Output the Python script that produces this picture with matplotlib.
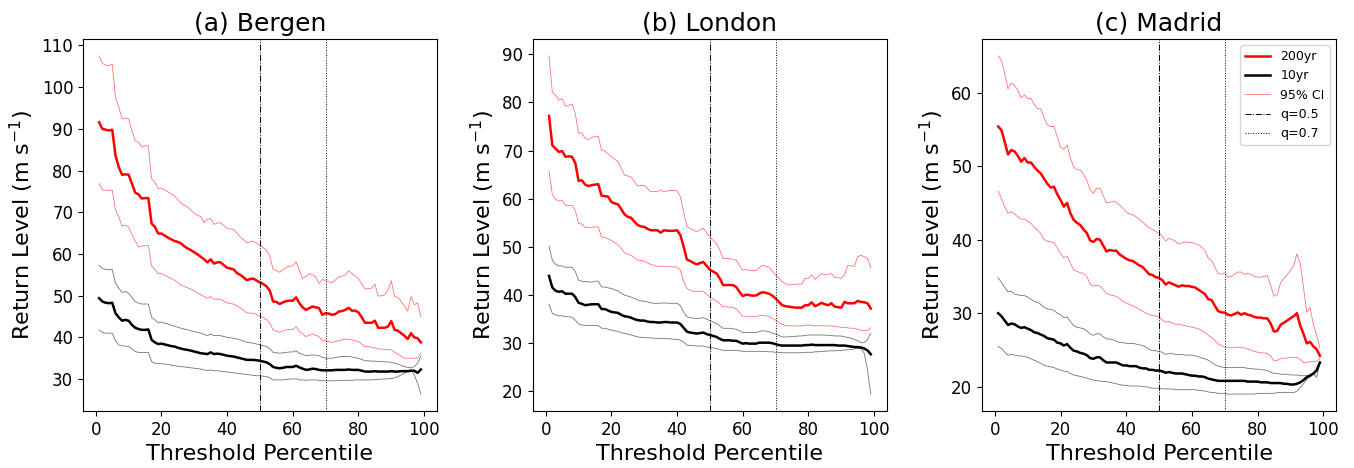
import matplotlib
matplotlib.use("Agg")
import matplotlib.pyplot as plt
import numpy as np

# threshold percentiles used for the GPD fits
percentiles = list(range(1, 100))

# ---- Bergen ----
bergen_rl200 = [
    91.6, 90.0, 89.8, 89.6, 89.8, 83.6, 80.8, 79.0, 79.1, 79.0,
    76.9, 74.7, 74.3, 73.3, 73.4, 73.4, 67.3, 66.5, 64.9, 64.9,
    64.4, 63.9, 63.5, 63.1, 62.9, 62.5, 61.8, 61.3, 60.9, 60.4,
    59.9, 59.3, 58.7, 58.0, 58.7, 57.7, 58.0, 58.0, 57.3, 56.7,
    56.5, 56.3, 55.4, 55.0, 54.4, 53.7, 54.0, 54.1, 53.6, 53.2,
    52.8, 52.2, 51.2, 48.6, 48.5, 48.0, 48.4, 48.7, 48.8, 48.8,
    49.6, 48.2, 47.2, 46.6, 47.0, 47.4, 47.2, 47.0, 45.4, 45.8,
    45.7, 45.4, 45.6, 46.2, 46.3, 46.6, 47.1, 46.4, 46.4, 46.0,
    44.8, 43.5, 43.5, 43.5, 44.0, 42.3, 42.3, 42.3, 42.6, 43.9,
    41.8, 41.6, 41.0, 40.4, 39.6, 41.0, 40.0, 39.8, 38.8]
bergen_rl200_hi = [
    107.5, 105.7, 105.3, 105.2, 105.5, 97.5, 95.2, 92.4, 92.6, 92.4,
    89.6, 87.2, 86.8, 85.6, 86.0, 85.9, 78.0, 77.2, 75.7, 75.8,
    75.3, 74.9, 74.4, 73.9, 73.0, 72.1, 71.7, 71.3, 70.5, 69.7,
    69.3, 68.9, 67.5, 68.3, 68.5, 67.1, 67.4, 67.5, 66.8, 66.1,
    66.0, 65.9, 65.0, 64.1, 63.4, 62.7, 62.9, 63.1, 62.6, 62.1,
    61.5, 60.9, 59.4, 56.3, 56.0, 55.6, 56.2, 56.8, 57.0, 57.2,
    58.1, 56.1, 54.1, 54.6, 55.3, 55.0, 54.5, 52.9, 53.9, 53.6,
    53.3, 53.1, 53.8, 54.5, 54.7, 54.9, 56.0, 55.3, 54.7, 54.1,
    52.8, 51.6, 51.7, 51.8, 52.8, 49.9, 50.0, 50.2, 51.4, 53.6,
    49.8, 49.6, 48.6, 47.5, 46.3, 49.8, 47.8, 48.3, 45.0]
bergen_rl200_lo = [
    76.9, 75.4, 75.3, 75.2, 75.3, 70.5, 68.9, 66.7, 66.9, 66.5,
    64.7, 63.1, 61.7, 61.9, 62.1, 62.0, 57.1, 56.3, 55.3, 55.3,
    54.9, 54.5, 54.1, 53.7, 53.1, 52.5, 52.2, 51.9, 51.5, 51.1,
    50.6, 50.2, 49.8, 49.4, 49.8, 49.1, 49.2, 49.1, 48.7, 48.3,
    48.1, 48.0, 47.5, 47.1, 46.5, 45.9, 45.8, 45.8, 45.5, 45.1,
    44.7, 44.3, 43.4, 41.8, 41.5, 41.2, 41.5, 41.8, 41.9, 41.9,
    42.6, 41.4, 40.8, 40.2, 40.5, 40.8, 40.5, 40.2, 39.2, 39.2,
    39.0, 38.8, 39.0, 39.2, 39.4, 39.6, 39.5, 39.4, 39.2, 39.0,
    38.4, 37.8, 37.8, 37.6, 37.5, 37.2, 37.2, 37.1, 37.1, 37.0,
    36.4, 36.0, 35.5, 35.0, 35.0, 35.0, 35.0, 35.0, 36.2]
bergen_rl10 = [
    49.4, 48.6, 48.3, 48.2, 48.3, 45.8, 44.8, 44.0, 44.2, 44.0,
    43.0, 42.3, 42.0, 41.8, 41.8, 41.9, 39.4, 38.8, 38.4, 38.5,
    38.3, 38.1, 37.9, 37.8, 37.5, 37.3, 37.1, 37.0, 36.8, 36.6,
    36.4, 36.2, 36.1, 36.0, 36.4, 36.0, 36.1, 36.0, 35.8, 35.6,
    35.5, 35.4, 35.2, 35.0, 34.8, 34.6, 34.6, 34.6, 34.5, 34.4,
    34.2, 34.0, 33.6, 32.9, 32.7, 32.6, 32.7, 32.9, 32.9, 32.9,
    33.2, 32.8, 32.5, 32.2, 32.3, 32.5, 32.4, 32.2, 32.1, 32.1,
    32.1, 32.1, 32.2, 32.2, 32.2, 32.2, 32.3, 32.2, 32.2, 32.2,
    32.0, 31.8, 31.8, 31.8, 31.9, 31.8, 31.8, 31.8, 31.8, 31.9,
    31.8, 31.8, 31.9, 31.9, 31.9, 32.0, 32.0, 31.5, 32.3]
bergen_rl10_hi = [
    57.3, 56.5, 56.3, 56.2, 56.3, 53.0, 51.8, 50.8, 51.0, 50.6,
    49.6, 48.6, 48.2, 48.0, 48.0, 48.0, 44.8, 44.2, 43.5, 43.7,
    43.4, 43.2, 42.9, 42.7, 42.4, 42.2, 42.0, 41.8, 41.6, 41.4,
    41.2, 41.0, 40.7, 40.4, 40.8, 40.4, 40.5, 40.4, 40.2, 40.0,
    39.9, 39.8, 39.6, 39.4, 39.1, 38.8, 38.7, 38.6, 38.4, 38.2,
    38.0, 37.8, 37.3, 36.4, 36.3, 36.2, 36.3, 36.4, 36.5, 36.5,
    36.8, 36.2, 35.9, 35.6, 35.7, 35.8, 35.7, 35.6, 35.2, 35.0,
    35.0, 35.0, 35.2, 35.3, 35.4, 35.4, 35.4, 35.3, 35.1, 35.0,
    34.7, 34.4, 34.4, 34.3, 34.3, 34.2, 34.2, 34.1, 34.1, 34.0,
    33.8, 33.6, 33.3, 33.0, 32.8, 32.7, 33.0, 33.8, 35.4]
bergen_rl10_lo = [
    41.8, 41.2, 41.0, 41.0, 41.0, 39.2, 38.2, 38.0, 37.9, 37.8,
    37.2, 36.6, 36.4, 36.4, 36.4, 36.4, 34.2, 33.8, 33.8, 33.7,
    33.6, 33.5, 33.3, 33.2, 33.1, 33.0, 32.9, 32.8, 32.7, 32.6,
    32.5, 32.4, 32.2, 32.0, 32.2, 32.0, 32.0, 31.9, 31.8, 31.7,
    31.6, 31.5, 31.4, 31.3, 31.2, 31.1, 31.0, 30.9, 30.8, 30.8,
    30.7, 30.6, 30.3, 29.8, 29.8, 29.8, 29.8, 29.9, 30.0, 30.0,
    30.1, 29.8, 29.8, 29.7, 29.8, 29.8, 29.8, 29.7, 29.6, 29.6,
    29.6, 29.6, 29.6, 29.7, 29.7, 29.7, 29.7, 29.7, 29.8, 29.8,
    29.8, 29.8, 29.8, 29.8, 29.9, 29.9, 30.0, 30.0, 30.1, 30.1,
    30.3, 30.6, 31.0, 31.4, 31.8, 32.2, 31.0, 29.0, 26.4]

# ---- London ----
london_rl200 = [
    77.2, 71.1, 70.4, 69.7, 69.9, 68.7, 68.8, 68.7, 67.4, 63.7,
    63.8, 62.9, 62.6, 62.8, 62.9, 63.0, 60.6, 60.5, 60.4, 59.3,
    59.0, 58.8, 57.8, 56.7, 56.2, 56.0, 55.2, 54.5, 54.2, 54.1,
    53.7, 53.4, 53.4, 53.4, 52.9, 53.4, 53.3, 53.3, 53.3, 53.4,
    52.4, 50.0, 47.3, 47.0, 46.6, 46.3, 46.6, 46.8, 46.0, 45.2,
    44.8, 44.4, 43.4, 42.0, 42.0, 42.0, 42.0, 41.6, 40.6, 39.7,
    40.0, 39.9, 39.8, 39.8, 40.2, 40.5, 40.4, 40.2, 39.8, 39.2,
    38.5, 37.8, 37.6, 37.5, 37.4, 37.3, 37.3, 37.3, 37.8, 37.8,
    38.4, 37.6, 37.9, 38.3, 38.0, 37.8, 38.2, 37.5, 37.4, 37.3,
    38.5, 38.2, 38.2, 38.2, 38.7, 38.5, 38.4, 38.2, 37.1]
london_rl200_hi = [
    89.7, 82.2, 81.5, 80.5, 80.8, 79.2, 79.4, 79.7, 77.7, 73.6,
    73.7, 72.5, 72.3, 72.7, 72.9, 73.0, 70.1, 69.9, 69.3, 68.7,
    68.2, 67.7, 66.3, 64.9, 64.7, 64.5, 63.5, 62.6, 62.7, 62.8,
    62.1, 61.4, 61.5, 61.4, 61.8, 61.4, 61.6, 61.7, 61.7, 61.6,
    60.4, 57.2, 54.1, 53.8, 53.4, 53.1, 53.5, 53.8, 52.9, 52.0,
    51.3, 50.7, 49.3, 47.5, 47.5, 47.5, 47.3, 47.2, 46.1, 45.1,
    45.2, 45.1, 45.0, 45.0, 45.6, 46.1, 45.9, 45.7, 44.9, 44.1,
    43.4, 42.7, 42.3, 42.0, 42.1, 42.2, 42.2, 42.2, 43.4, 43.4,
    44.1, 43.2, 43.8, 44.4, 44.2, 44.1, 44.4, 43.6, 43.5, 43.4,
    44.1, 46.1, 46.0, 45.9, 47.9, 48.2, 47.9, 47.5, 45.6]
london_rl200_lo = [
    65.7, 60.9, 59.8, 59.5, 59.6, 58.6, 58.6, 58.6, 57.6, 54.8,
    54.7, 54.0, 54.0, 54.0, 54.1, 54.1, 52.0, 51.9, 51.6, 51.3,
    50.8, 50.4, 49.6, 48.7, 48.4, 48.2, 47.7, 47.2, 47.1, 47.0,
    46.6, 46.3, 46.1, 45.9, 45.9, 45.9, 45.8, 45.8, 45.8, 45.7,
    45.1, 42.7, 41.3, 40.9, 40.7, 40.6, 40.7, 40.7, 40.1, 39.5,
    39.1, 38.7, 38.1, 37.5, 37.5, 37.4, 37.3, 37.1, 36.3, 35.5,
    35.5, 35.5, 35.4, 35.4, 35.6, 35.7, 35.6, 35.5, 35.1, 34.7,
    34.2, 33.8, 33.6, 33.5, 33.5, 33.5, 33.5, 33.5, 33.6, 33.7,
    33.6, 33.5, 33.5, 33.6, 33.5, 33.5, 33.5, 33.4, 33.3, 33.2,
    33.2, 33.1, 33.0, 33.0, 32.8, 32.6, 32.5, 32.5, 33.1]
london_rl10 = [
    43.9, 41.5, 40.8, 40.6, 40.7, 40.2, 40.2, 40.2, 39.5, 38.3,
    38.1, 37.8, 37.9, 38.0, 38.0, 38.0, 37.0, 37.0, 36.7, 36.4,
    36.3, 36.2, 35.8, 35.5, 35.4, 35.2, 34.9, 34.7, 34.6, 34.6,
    34.4, 34.3, 34.3, 34.2, 34.2, 34.3, 34.3, 34.2, 34.2, 34.2,
    33.9, 33.1, 32.3, 32.1, 32.0, 31.9, 32.0, 32.1, 31.8, 31.6,
    31.4, 31.2, 30.8, 30.5, 30.5, 30.5, 30.4, 30.4, 30.1, 29.8,
    29.9, 29.8, 29.8, 29.8, 30.0, 30.0, 30.0, 30.0, 29.9, 29.7,
    29.5, 29.4, 29.4, 29.4, 29.4, 29.4, 29.4, 29.4, 29.5, 29.5,
    29.6, 29.5, 29.5, 29.5, 29.5, 29.5, 29.5, 29.5, 29.4, 29.4,
    29.4, 29.3, 29.2, 29.1, 29.1, 29.0, 28.8, 28.4, 27.6]
london_rl10_hi = [
    50.1, 47.2, 46.3, 46.0, 46.0, 45.7, 45.7, 45.7, 44.8, 43.0,
    42.8, 42.7, 42.7, 42.6, 42.8, 42.8, 41.6, 41.6, 41.4, 41.3,
    41.0, 40.8, 40.3, 39.9, 39.7, 39.5, 39.2, 38.9, 38.7, 38.6,
    38.5, 38.3, 38.2, 38.2, 38.2, 38.3, 38.2, 38.2, 38.2, 38.2,
    37.7, 36.4, 35.4, 35.2, 35.1, 35.0, 35.1, 35.2, 34.9, 34.6,
    34.3, 34.0, 33.5, 33.0, 33.0, 33.0, 32.9, 32.8, 32.5, 32.1,
    32.1, 32.1, 32.1, 32.1, 32.3, 32.5, 32.4, 32.3, 32.0, 31.8,
    31.5, 31.2, 31.2, 31.2, 31.3, 31.3, 31.4, 31.4, 31.5, 31.6,
    31.6, 31.6, 31.6, 31.6, 31.6, 31.5, 31.5, 31.4, 31.4, 31.4,
    31.2, 31.1, 30.9, 30.7, 30.4, 30.0, 30.0, 30.7, 31.9]
london_rl10_lo = [
    38.0, 36.1, 35.8, 35.6, 35.6, 35.4, 35.4, 35.3, 34.7, 33.9,
    33.7, 33.6, 33.6, 33.6, 33.6, 33.6, 33.0, 33.0, 32.8, 32.6,
    32.5, 32.3, 32.1, 31.9, 31.8, 31.6, 31.4, 31.2, 31.1, 31.1,
    31.0, 31.0, 30.9, 30.9, 30.9, 30.9, 30.8, 30.8, 30.7, 30.7,
    30.5, 30.2, 29.5, 29.4, 29.4, 29.3, 29.3, 29.3, 29.1, 29.0,
    28.9, 28.8, 28.6, 28.4, 28.4, 28.4, 28.4, 28.4, 28.3, 28.2,
    28.2, 28.2, 28.2, 28.2, 28.2, 28.2, 28.2, 28.1, 28.1, 28.0,
    28.0, 27.9, 27.9, 27.9, 27.9, 27.9, 27.9, 27.9, 28.0, 28.0,
    28.0, 28.1, 28.1, 28.2, 28.2, 28.3, 28.3, 28.3, 28.4, 28.4,
    28.5, 28.5, 28.6, 28.7, 28.8, 28.8, 27.8, 24.3, 19.3]

# ---- Madrid ----
madrid_rl200 = [
    55.4, 54.9, 53.3, 51.6, 52.2, 52.0, 51.4, 50.6, 51.1, 50.5,
    50.5, 49.9, 49.4, 49.0, 48.3, 47.6, 47.1, 47.2, 46.2, 45.4,
    44.5, 45.0, 43.6, 42.7, 42.3, 42.0, 41.4, 40.9, 39.9, 39.7,
    40.1, 40.0, 39.2, 38.4, 38.6, 38.5, 38.5, 38.0, 37.7, 37.4,
    37.2, 37.1, 36.8, 36.5, 36.3, 35.8, 35.3, 35.2, 34.9, 34.8,
    34.5, 33.9, 34.2, 34.0, 33.8, 33.6, 33.8, 33.7, 33.7, 33.6,
    33.5, 33.2, 32.9, 32.6, 31.9, 31.8, 31.0, 30.3, 30.1, 30.1,
    29.8, 29.7, 29.9, 30.1, 29.8, 30.0, 29.8, 29.7, 29.5, 29.4,
    29.4, 29.3, 29.3, 28.6, 27.5, 27.6, 28.4, 28.7, 29.0, 29.3,
    29.6, 30.0, 28.3, 27.2, 25.9, 26.1, 25.5, 25.1, 24.2]
madrid_rl200_hi = [
    65.0, 64.4, 62.6, 60.5, 61.3, 61.0, 60.3, 59.3, 59.7, 59.2,
    59.2, 58.4, 57.8, 57.8, 56.6, 55.6, 55.4, 55.4, 54.0, 52.6,
    52.3, 52.9, 51.1, 49.9, 49.5, 49.5, 48.9, 48.1, 46.8, 46.3,
    47.0, 47.0, 46.0, 45.0, 45.1, 45.2, 45.1, 44.7, 44.3, 43.8,
    43.5, 43.4, 43.1, 42.8, 42.4, 42.0, 41.6, 41.4, 41.1, 40.9,
    40.5, 39.8, 40.2, 40.0, 39.8, 39.4, 39.6, 39.7, 39.6, 39.6,
    39.5, 39.3, 39.0, 38.5, 37.5, 37.2, 36.3, 35.4, 35.3, 35.5,
    34.9, 35.0, 35.3, 35.6, 35.6, 35.3, 35.4, 35.3, 35.0, 34.9,
    34.9, 35.0, 35.1, 33.8, 32.3, 32.5, 34.1, 34.7, 35.2, 35.8,
    36.4, 38.1, 36.8, 33.5, 30.1, 30.8, 28.5, 27.0, 25.3]
madrid_rl200_lo = [
    46.6, 45.6, 44.5, 43.6, 43.8, 43.5, 43.1, 42.8, 42.8, 42.5,
    42.2, 41.7, 41.3, 40.8, 40.0, 39.8, 39.7, 39.6, 38.9, 38.1,
    37.5, 37.8, 36.8, 35.9, 35.7, 35.5, 35.4, 35.0, 34.0, 33.7,
    33.8, 33.7, 33.2, 32.7, 32.5, 32.4, 32.3, 32.0, 31.6, 31.4,
    31.2, 31.0, 30.8, 30.5, 30.3, 30.0, 29.8, 29.7, 29.6, 29.5,
    29.1, 28.8, 28.9, 28.7, 28.5, 28.5, 28.4, 28.3, 28.2, 28.1,
    28.0, 27.9, 27.6, 27.4, 27.0, 26.7, 26.3, 25.8, 25.6, 25.4,
    25.3, 25.3, 25.3, 25.4, 25.3, 25.3, 25.1, 25.0, 24.8, 24.7,
    24.6, 24.6, 24.5, 24.2, 23.5, 23.6, 23.8, 23.9, 23.9, 24.0,
    24.0, 24.0, 23.7, 23.3, 23.3, 23.4, 23.4, 23.5, 23.8]
madrid_rl10 = [
    30.0, 29.6, 29.0, 28.4, 28.6, 28.5, 28.2, 28.0, 28.1, 27.9,
    27.7, 27.4, 27.3, 27.1, 26.9, 26.6, 26.5, 26.4, 26.0, 25.9,
    25.6, 25.8, 25.3, 24.9, 24.8, 24.6, 24.5, 24.3, 23.9, 23.8,
    24.0, 24.0, 23.6, 23.3, 23.3, 23.3, 23.3, 23.1, 22.9, 22.9,
    22.8, 22.8, 22.8, 22.6, 22.5, 22.5, 22.3, 22.3, 22.2, 22.2,
    22.1, 21.9, 22.0, 21.9, 21.8, 21.8, 21.8, 21.7, 21.6, 21.5,
    21.5, 21.4, 21.4, 21.3, 21.1, 21.0, 20.9, 20.8, 20.8, 20.8,
    20.8, 20.8, 20.8, 20.8, 20.8, 20.8, 20.7, 20.7, 20.7, 20.7,
    20.6, 20.6, 20.6, 20.5, 20.5, 20.5, 20.5, 20.4, 20.4, 20.3,
    20.3, 20.4, 20.6, 20.9, 21.3, 21.5, 21.8, 22.2, 23.3]
madrid_rl10_hi = [
    34.8, 34.2, 33.5, 32.9, 33.0, 32.6, 32.5, 32.4, 32.4, 32.2,
    31.9, 31.6, 31.5, 31.2, 30.8, 30.6, 30.5, 30.4, 30.0, 29.8,
    29.4, 29.5, 28.9, 28.3, 28.1, 28.0, 27.9, 27.6, 27.2, 27.0,
    27.2, 27.2, 26.8, 26.5, 26.5, 26.4, 26.2, 26.0, 26.0, 25.9,
    25.9, 25.9, 25.8, 25.7, 25.6, 25.4, 25.1, 24.9, 24.9, 24.8,
    24.7, 24.4, 24.5, 24.5, 24.4, 24.4, 24.4, 24.3, 24.3, 24.3,
    24.2, 24.1, 23.9, 23.8, 23.6, 23.3, 23.0, 22.8, 22.7, 22.6,
    22.6, 22.6, 22.6, 22.6, 22.6, 22.6, 22.5, 22.5, 22.4, 22.4,
    22.3, 22.3, 22.2, 22.0, 21.8, 21.8, 21.7, 21.7, 21.7, 21.6,
    21.6, 21.6, 21.5, 21.5, 21.5, 21.6, 21.8, 21.3, 23.4]
madrid_rl10_lo = [
    25.5, 25.2, 24.7, 24.3, 24.4, 24.3, 24.2, 24.2, 24.1, 24.0,
    23.8, 23.6, 23.4, 23.2, 22.9, 22.8, 22.7, 22.6, 22.4, 22.3,
    22.1, 22.1, 21.8, 21.6, 21.5, 21.4, 21.3, 21.2, 21.0, 20.9,
    20.8, 20.8, 20.7, 20.7, 20.6, 20.5, 20.4, 20.3, 20.2, 20.2,
    20.1, 20.1, 20.1, 20.1, 20.0, 20.0, 19.9, 19.8, 19.8, 19.8,
    19.7, 19.7, 19.7, 19.7, 19.6, 19.6, 19.6, 19.6, 19.6, 19.6,
    19.6, 19.5, 19.5, 19.4, 19.3, 19.2, 19.2, 19.1, 19.1, 19.1,
    19.0, 19.0, 19.0, 19.0, 19.0, 19.0, 19.0, 19.0, 19.0, 19.1,
    19.1, 19.1, 19.1, 19.1, 19.1, 19.2, 19.2, 19.2, 19.2, 19.2,
    19.2, 19.4, 19.9, 20.4, 21.0, 21.4, 21.9, 22.4, 23.3]

cities = ["(a) Bergen", "(b) London", "(c) Madrid"]
series = [
    (bergen_rl200, bergen_rl200_hi, bergen_rl200_lo, bergen_rl10, bergen_rl10_hi, bergen_rl10_lo),
    (london_rl200, london_rl200_hi, london_rl200_lo, london_rl10, london_rl10_hi, london_rl10_lo),
    (madrid_rl200, madrid_rl200_hi, madrid_rl200_lo, madrid_rl10, madrid_rl10_hi, madrid_rl10_lo),
]
q_lines = [50, 70]

fig = plt.figure(figsize=(13.54, 4.68), dpi=100)
lefts = [0.0613, 0.3936, 0.7253]

for i, (title, data) in enumerate(zip(cities, series)):
    rl200, rl200_hi, rl200_lo, rl10, rl10_hi, rl10_lo = data
    ax = fig.add_axes([lefts[i], 0.1218, 0.2614, 0.7949])

    ax.plot(percentiles, rl200, color='red', lw=1.8, label='200yr')
    ax.plot(percentiles, rl10, color='black', lw=1.8, label='10yr')
    ax.plot(percentiles, rl200_hi, color='red', lw=0.6, alpha=0.55, label='95% CI')
    ax.plot(percentiles, rl200_lo, color='red', lw=0.6, alpha=0.55)
    ax.plot(percentiles, rl10_hi, color='black', lw=0.6, alpha=0.55)
    ax.plot(percentiles, rl10_lo, color='black', lw=0.6, alpha=0.55)

    ax.axvline(q_lines[0], color='black', ls='-.', lw=0.7, label='q=0.5')
    ax.axvline(q_lines[1], color='black', ls=':', lw=0.7, label='q=0.7')

    ax.set_title(title, fontsize=18)
    ax.set_xlabel('Threshold Percentile', fontsize=16)
    ax.set_ylabel(r'Return Level (m s$^{-1}$)', fontsize=16)
    ax.tick_params(labelsize=12)
    ax.set_xticks([0, 20, 40, 60, 80, 100])

    if i == 2:
        ax.legend(loc='upper right', fontsize=9)

fig.savefig('out.png', dpi=100)
